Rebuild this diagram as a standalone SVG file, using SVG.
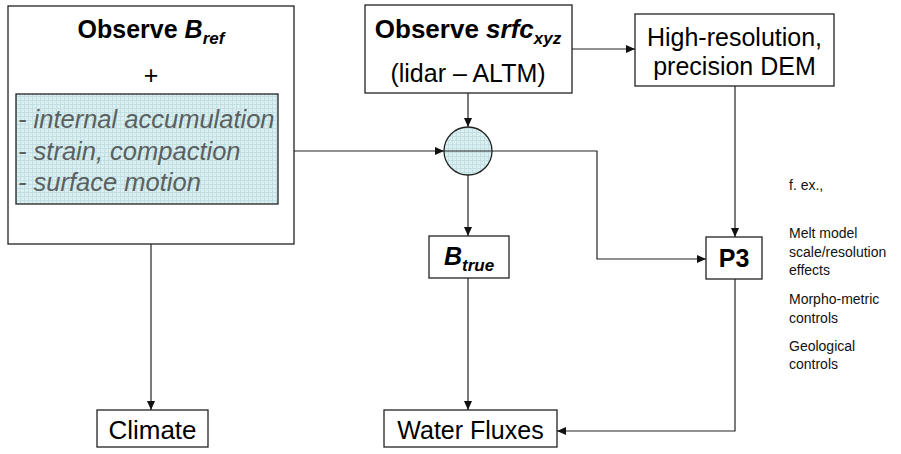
<svg xmlns="http://www.w3.org/2000/svg" width="901" height="454" viewBox="0 0 901 454">
<style>
.box{fill:#fff;stroke:#222;stroke-width:1.3}
.tex{fill:url(#grid);stroke:#222;stroke-width:1.3}
.t{font-family:"Liberation Sans",Arial,sans-serif;font-size:25px;fill:#000}
.b{font-weight:bold}
.i{font-style:italic}
.g{font-family:"Liberation Sans",Arial,sans-serif;font-size:25.5px;font-style:italic;fill:#5a5f60}
.s{font-family:"Liberation Sans",Arial,sans-serif;font-size:14px;fill:#111}
.c{fill:none;stroke:#222;stroke-width:1.2}
</style>
<defs>
<pattern id="grid" width="4" height="4" patternUnits="userSpaceOnUse">
<rect width="4" height="4" fill="#d9eff1"/>
<path d="M0 0.5H4M0.5 0V4" stroke="#c3dfe2" stroke-width="1"/>
</pattern>
<marker id="ah" markerWidth="9" markerHeight="8" refX="9" refY="4" orient="auto" markerUnits="userSpaceOnUse">
<path d="M0 0L9 4L0 8z" fill="#111"/>
</marker>
</defs>

<g id="connectors">
<path class="c" d="M151 244V410" marker-end="url(#ah)"/>
<path class="c" d="M278 151H444" marker-end="url(#ah)"/>
<path class="c" d="M468 93V127" marker-end="url(#ah)"/>
<path class="c" d="M572 49H635" marker-end="url(#ah)"/>
<path class="c" d="M735 86V237" marker-end="url(#ah)"/>
<path class="c" d="M468 174V236" marker-end="url(#ah)"/>
<path class="c" d="M492 151H597V259H706" marker-end="url(#ah)"/>
<path class="c" d="M468 278V410" marker-end="url(#ah)"/>
<path class="c" d="M735 279V431H557" marker-end="url(#ah)"/>
</g>

<g id="observe-bref">
<rect class="box" x="8" y="6" width="286" height="238"/>
<text class="t b" x="151" y="38" text-anchor="middle">Observe <tspan class="i">B</tspan><tspan class="i" font-size="17" dy="6">ref</tspan></text>
<text class="t" x="151" y="84" text-anchor="middle">+</text>
</g>

<g id="processes">
<rect class="tex" x="16" y="94" width="262" height="110"/>
<text class="g" x="18" y="128">- internal accumulation</text>
<text class="g" x="18" y="160">- strain, compaction</text>
<text class="g" x="18" y="191">- surface motion</text>
</g>

<g id="observe-srfc">
<rect class="box" x="365" y="5" width="207" height="88"/>
<text class="t b" x="468" y="38" text-anchor="middle" style="font-size:26px">Observe <tspan class="i">srfc</tspan><tspan class="i" style="font-size:17px" dy="6">xyz</tspan></text>
<text class="t" x="468" y="82" text-anchor="middle">(lidar – ALTM)</text>
</g>

<g id="combine">
<circle cx="468" cy="151" r="24" fill="url(#grid)" stroke="#222" stroke-width="1.3"/>
<path class="c" d="M444 151H492"/>
</g>

<g id="dem">
<rect class="box" x="635" y="14" width="199" height="72"/>
<text class="t" x="734.5" y="46" text-anchor="middle">High-resolution,</text>
<text class="t" x="734.5" y="75" text-anchor="middle">precision DEM</text>
</g>

<g id="btrue">
<rect class="box" x="429" y="236" width="80" height="42"/>
<text class="t b" x="469" y="265" text-anchor="middle"><tspan class="i">B</tspan><tspan class="i" font-size="17" dy="6">true</tspan></text>
</g>

<g id="p3">
<rect class="box" x="706" y="237" width="56" height="42"/>
<text class="t b" x="734" y="267" text-anchor="middle">P3</text>
</g>

<g id="climate">
<rect class="box" x="97" y="410" width="111" height="37"/>
<text class="t" x="152.5" y="439" text-anchor="middle" style="font-size:26px">Climate</text>
</g>

<g id="water-fluxes">
<rect class="box" x="384" y="410" width="173" height="37"/>
<text class="t" x="470.5" y="439" text-anchor="middle">Water Fluxes</text>
</g>

<g id="notes">
<text class="s" x="789" y="190">f. ex.,</text>
<text class="s" x="789" y="238">Melt model</text>
<text class="s" x="789" y="257">scale/resolution</text>
<text class="s" x="789" y="275">effects</text>
<text class="s" x="789" y="304">Morpho-metric</text>
<text class="s" x="789" y="323">controls</text>
<text class="s" x="789" y="351">Geological</text>
<text class="s" x="789" y="369">controls</text>
</g>
</svg>
